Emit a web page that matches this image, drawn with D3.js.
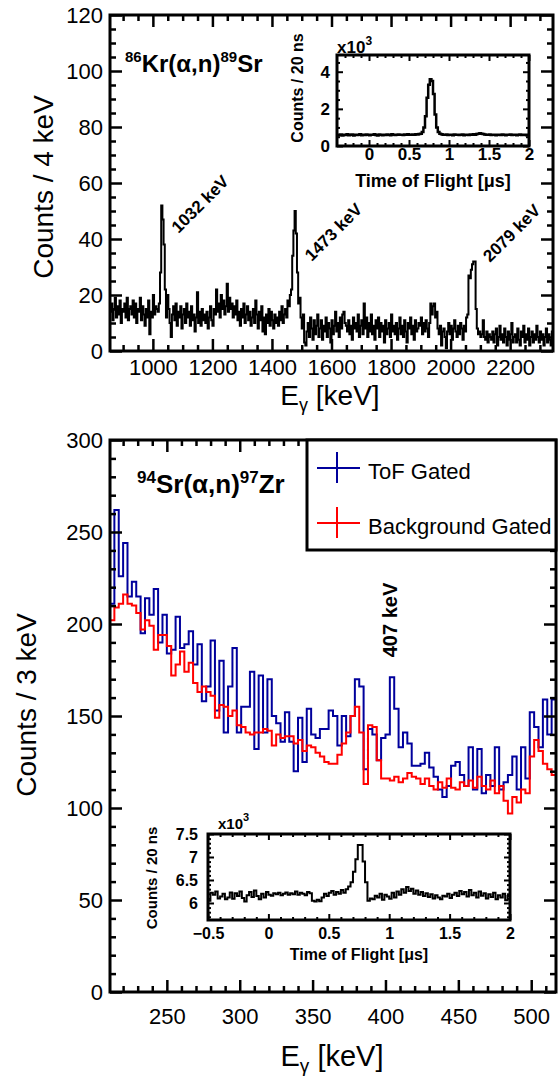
<!DOCTYPE html>
<html>
<head>
<meta charset="utf-8">
<script src="https://cdn.jsdelivr.net/npm/d3@7"></script>
<style>
  body { margin: 0; background: #fff; }
  svg { display: block; font-family: "Liberation Sans", Arial, Helvetica, sans-serif; }
</style>
</head>
<body>
<svg id="chart" width="560" height="1079"></svg>
<script>
// ---- top panel: 86Kr(a,n)89Sr, 4 keV bins starting at 856 keV
var krStart = 856, krBin = 4;
var krCounts = [
  14, 17, 11, 15, 19, 12, 16, 13, 18, 10, 15, 14, 17, 12, 19, 11, 15, 16, 13, 18,
  12, 17, 10, 15, 14, 19, 11, 16, 13, 9, 15, 12, 18, 6, 14, 12, 20, 13, 16, 15,
  14, 17, 28, 52, 47, 38, 22, 12, 20, 15, 10, 5, 13, 16, 11, 17, 9, 14, 12, 16,
  8, 13, 15, 10, 17, 12, 14, 9, 16, 11, 13, 7, 12, 21, 10, 14, 9, 15, 11, 13,
  10, 14, 8, 12, 16, 11, 9, 15, 13, 22, 14, 17, 12, 20, 15, 18, 13, 16, 24, 14,
  19, 15, 17, 12, 16, 13, 18, 11, 14, 9, 15, 12, 17, 10, 13, 16, 11, 14, 9, 12,
  15, 10, 18, 13, 8, 14, 11, 16, 7, 12, 6, 13, 10, 15, 9, 14, 11, 8, 13, 10,
  12, 9, 14, 11, 16, 10, 13, 15, 12, 18, 16, 20, 22, 34, 43, 50, 42, 28, 17, 19,
  12, 8, 13, 3, 2, 7, 10, 5, 12, 8, 4, 11, 6, 9, 13, 5, 8, 11, 4, 9,
  7, 12, 5, 10, 8, 3, 11, 6, 9, 14, 7, 10, 5, 12, 8, 13, 14, 10, 9, 7,
  11, 6, 9, 4, 12, 8, 10, 7, 13, 5, 9, 11, 6, 17, 8, 12, 5, 10, 7, 13,
  6, 9, 4, 11, 8, 12, 5, 10, 7, 9, 3, 11, 6, 8, 10, 5, 13, 7, 9, 6,
  10, 4, 8, 12, 6, 9, 5, 11, 7, 3, 10, 8, 12, 6, 9, 4, 11, 7, 8, 10,
  9, 12, 6, 10, 7, 11, 8, 5, 10, 17, 13, 16, 17, 12, 14, 8, 6, 9, 2, 7,
  8, 5, 1, 7, 10, 6, 9, 4, 8, 11, 7, 5, 9, 6, 10, 8, 4, 9, 7, 12,
  13, 27, 26, 29, 31, 32, 32, 15, 8, 6, 7, 5, 6, 11, 5, 4, 7, 3, 6, 5,
  4, 7, 3, 6, 8, 2, 5, 9, 4, 6, 3, 8, 5, 2, 7, 4, 6, 10, 3, 5,
  6, 3, 8, 4, 2, 7, 5, 9, 3, 6, 4, 8, 2, 5, 7, 3, 6, 4, 9, 5,
  3, 7, 4, 6, 2, 5, 8, 3, 6, 4, 2, 7
];
var krPeaks = [1032, 1473, 2079];
var krPeakLabels = ["1032 keV", "1473 keV", "2079 keV"];
var krXTicks = [1000, 1200, 1400, 1600, 1800, 2000, 2200];
var krYTicks = [0, 20, 40, 60, 80, 100, 120];

// top inset: time of flight, 20 ns bins from -0.4 us, counts x10^3
var tof1Start = -0.4, tof1Bin = 0.02;
var tof1Counts = [
  0.60, 0.58, 0.62, 0.57, 0.61, 0.59, 0.63, 0.58, 0.60, 0.62, 0.57, 0.61, 0.59, 0.60, 0.63, 0.58, 0.61, 0.59, 0.62, 0.60,
  0.58, 0.61, 0.60, 0.63, 0.59, 0.57, 0.62, 0.60, 0.58, 0.61, 0.59, 0.62, 0.60, 0.58, 0.63, 0.60, 0.59, 0.61, 0.62, 0.60,
  0.61, 0.59, 0.62, 0.60, 0.63, 0.61, 0.60, 0.62, 0.61, 0.63, 0.62, 0.64, 0.66, 0.75, 1.00, 1.60, 2.60, 3.30, 3.60, 3.50,
  2.80, 1.70, 1.00, 0.75, 0.66, 0.63, 0.61, 0.60, 0.62, 0.59, 0.61, 0.60, 0.58, 0.62, 0.60, 0.61, 0.59, 0.60, 0.62, 0.58,
  0.60, 0.61, 0.59, 0.62, 0.60, 0.63, 0.61, 0.64, 0.66, 0.68, 0.66, 0.64, 0.62, 0.61, 0.60, 0.62, 0.59, 0.61, 0.60, 0.58,
  0.61, 0.60, 0.59, 0.62, 0.60, 0.58, 0.61, 0.60, 0.62, 0.59, 0.60, 0.61, 0.58, 0.60, 0.62, 0.59, 0.61, 0.60, 0.58, 0.61
];
var tof1XTicks = [0, 0.5, 1, 1.5, 2];
var tof1YTicks = [0, 2, 4];

// ---- bottom panel: 94Sr(a,n)97Zr, 3 keV bins starting at 211 keV
var zrStart = 211, zrBin = 3;
var zrTofGated = [
  211, 262, 226, 244, 215, 223, 215, 195, 214, 205,
  219, 190, 205, 184, 186, 204, 187, 189, 196, 178,
  189, 158, 166, 191, 153, 180, 141, 166, 187, 141,
  155, 155, 174, 132, 172, 141, 170, 150, 146, 136,
  152, 136, 120, 149, 125, 154, 140, 138, 143, 143,
  153, 150, 134, 150, 139, 150, 170, 166, 121, 143,
  140, 126, 138, 140, 171, 154, 133, 141, 135, 123,
  123, 124, 130, 122, 117, 110, 106, 112, 123, 125,
  118, 112, 133, 110, 132, 108, 118, 112, 133, 110,
  114, 118, 128, 110, 133, 116, 152, 144, 133, 159,
  140, 159
];
var zrBackground = [
  202, 209, 211, 216, 211, 210, 206, 197, 202, 199,
  186, 194, 194, 188, 172, 178, 185, 174, 179, 168,
  163, 166, 163, 161, 149, 156, 155, 150, 153, 145,
  144, 141, 140, 141, 141, 143, 142, 134, 140, 138,
  139, 139, 135, 137, 131, 134, 133, 130, 128, 125,
  124, 124, 129, 135, 141, 150, 155, 141, 113, 145,
  144, 126, 116, 116, 115, 117, 114, 116, 119, 117,
  116, 113, 116, 112, 110, 114, 111, 116, 111, 110,
  114, 112, 115, 111, 117, 112, 110, 115, 108, 112,
  104, 97, 106, 103, 110, 108, 128, 137, 131, 124,
  121, 118
];
var zrSeries = ["ToF Gated", "Background Gated"];
var zrPeak = 407;
var zrXTicks = [250, 300, 350, 400, 450, 500];
var zrYTicks = [0, 50, 100, 150, 200, 250, 300];

// bottom inset: time of flight, 20 ns bins from -0.5 us, counts x10^3
var tof2Start = -0.5, tof2Bin = 0.02;
var tof2Counts = [
  6.05, 6.22, 6.18, 6.25, 6.10, 6.14, 6.20, 6.08, 6.12, 6.23, 6.09, 6.21, 6.15, 6.25, 6.11, 6.03, 6.17, 6.24, 6.13, 6.27,
  6.15, 6.08, 6.20, 6.12, 6.24, 6.18, 6.16, 6.21, 6.19, 6.22, 6.17, 6.20, 6.23, 6.18, 6.21, 6.19, 6.25, 6.18, 6.22, 6.20,
  6.17, 6.24, 6.21, 6.05, 6.03, 6.07, 6.04, 6.12, 6.20, 6.15, 6.22, 6.26, 6.18, 6.24, 6.20, 6.28, 6.22, 6.30, 6.36, 6.45,
  6.68, 6.95, 7.26, 7.26, 6.90, 6.45, 6.05, 6.10, 6.08, 6.16, 6.12, 6.20, 6.07, 6.18, 6.14, 6.09, 6.22, 6.12, 6.25, 6.18,
  6.30, 6.22, 6.35, 6.26, 6.31, 6.20, 6.27, 6.18, 6.24, 6.15, 6.21, 6.13, 6.19, 6.10, 6.17, 6.12, 6.08, 6.16, 6.14, 6.20,
  6.11, 6.18, 6.22, 6.15, 6.26, 6.19, 6.24, 6.14, 6.28, 6.17, 6.22, 6.12, 6.25, 6.16, 6.21, 6.10, 6.19, 6.13, 6.22, 6.08,
  6.17, 6.12, 6.20, 6.06, 6.15
];
var tof2XTicks = [-0.5, 0, 0.5, 1, 1.5, 2];
var tof2YTicks = [6, 6.5, 7, 7.5];

var blue = "#00009c", red = "#ff0000";
var svg = d3.select("#chart");

function edges(start, bin, vals) {
  var pts = vals.map(function (v, i) { return [start + i * bin, v]; });
  pts.push([start + vals.length * bin, vals[vals.length - 1]]);
  return pts;
}

function hist(g, x, y, start, bin, vals, color, width, clipId) {
  var line = d3.line()
    .x(function (d) { return x(d[0]); })
    .y(function (d) { return y(d[1]); })
    .curve(d3.curveStepAfter);
  g.append("path")
    .attr("d", line(edges(start, bin, vals)))
    .attr("fill", "none")
    .attr("stroke", color)
    .attr("stroke-width", width)
    .attr("clip-path", "url(#" + clipId + ")");
}

function clip(id, x, y) {
  svg.append("clipPath").attr("id", id).append("rect")
    .attr("x", x.range()[0]).attr("y", y.range()[1])
    .attr("width", x.range()[1] - x.range()[0])
    .attr("height", y.range()[0] - y.range()[1]);
}

function minorTicks(lo, hi, step, major) {
  return d3.range(Math.round(lo / step), Math.round(hi / step) + 1)
    .map(function (k) { return +(k * step).toFixed(4); })
    .filter(function (v) {
      return v > lo && v < hi && major.indexOf(v) < 0;
    });
}

// ROOT style frame: ticks on all four sides pointing inward, labels left and bottom
function frame(g, x, y, o) {
  var L = x.range()[0], R = x.range()[1], B = y.range()[0], T = y.range()[1];
  var xd = x.domain(), yd = y.domain();
  var xMinor = minorTicks(xd[0], xd[1], o.xStep, o.xMajor);
  var yMinor = minorTicks(yd[0], yd[1], o.yStep, o.yMajor);
  var sides = [
    [d3.axisBottom, x, 0, B, o.xMajor, xMinor, o.xPad],
    [d3.axisTop, x, 0, T, o.xMajor, xMinor, 0],
    [d3.axisLeft, y, L, 0, o.yMajor, yMinor, o.yPad],
    [d3.axisRight, y, R, 0, o.yMajor, yMinor, 0]
  ];
  sides.forEach(function (s, k) {
    var tr = "translate(" + s[2] + "," + s[3] + ")";
    g.append("g").attr("transform", tr)
      .call(s[0](s[1]).tickValues(s[5]).tickSize(-o.minorLen).tickFormat(""));
    var labelled = (k === 0 || k === 2);
    var fmt = k < 2 ? o.xFormat : o.yFormat;
    g.append("g").attr("transform", tr).attr("class", labelled ? "lab" : "")
      .call(s[0](s[1]).tickValues(s[4]).tickSize(-o.majorLen).tickPadding(s[6])
        .tickFormat(labelled ? fmt : ""));
  });
  g.selectAll(".domain").remove();
  g.selectAll(".tick line").attr("stroke", "#000").attr("stroke-width", o.tickW);
  g.selectAll("g").attr("font-family", null).attr("font-size", null);
  g.selectAll(".lab text")
    .attr("fill", "#000")
    .style("font-size", o.fontSize + "px")
    .style("font-weight", o.bold ? "bold" : "normal");
  g.append("rect")
    .attr("x", L).attr("y", T).attr("width", R - L).attr("height", B - T)
    .attr("fill", "none").attr("stroke", "#000").attr("stroke-width", o.frameW);
}

function plain(v) { return String(v); }
function signed(v) { return v < 0 ? "\u2212" + Math.abs(v) : String(v); }

function eGammaTitle(g, cx, cy, size) {
  var t = g.append("text").attr("x", cx).attr("y", cy)
    .attr("text-anchor", "middle").style("font-size", size + "px");
  t.append("tspan").text("E");
  t.append("tspan").text("\u03b3").style("font-size", Math.round(size * 0.65) + "px").attr("dy", 6);
  t.append("tspan").text(" [keV]").attr("dy", -6);
}

function superTitle(g, x, y, size, supSize, parts) {
  var t = g.append("text").attr("x", x).attr("y", y)
    .style("font-size", size + "px").style("font-weight", "bold");
  var shift = Math.round(size * 0.4);
  parts.forEach(function (p, i) {
    var sup = i % 2 === 0;
    t.append("tspan").text(p)
      .style("font-size", (sup ? supSize : size) + "px")
      .attr("dy", i === 0 ? -shift : (sup ? -shift : shift));
  });
}

function insetTitles(g, x, y, o) {
  var L = x.range()[0], R = x.range()[1];
  var m = g.append("text").attr("x", L + o.multDx).attr("y", o.multY)
    .style("font-size", o.multSize + "px").style("font-weight", "bold");
  m.append("tspan").text("x10");
  m.append("tspan").text("3").style("font-size", Math.round(o.multSize * 0.7) + "px").attr("dy", -8);
  g.append("text")
    .attr("transform", "translate(" + o.yTitleX + "," + o.yTitleY + ") rotate(-90)")
    .attr("text-anchor", "middle")
    .style("font-size", o.titleSize + "px").style("font-weight", "bold")
    .text("Counts / 20 ns");
  g.append("text").attr("x", (L + R) / 2).attr("y", o.xTitleY)
    .attr("text-anchor", "middle")
    .style("font-size", o.xTitleSize + "px").style("font-weight", "bold")
    .text("Time of Flight [\u03bcs]");
}

// ================= TOP PANEL =================
var panelKr = svg.append("g");
var kx = d3.scaleLinear().domain([krStart, krStart + krCounts.length * krBin]).range([110, 553]);
var ky = d3.scaleLinear().domain([0, 120]).range([351, 15]);
clip("clipKr", kx, ky);
hist(panelKr, kx, ky, krStart, krBin, krCounts, "#000", 2, "clipKr");
frame(panelKr, kx, ky, {
  xMajor: krXTicks, yMajor: krYTicks, xStep: 50, yStep: 5,
  majorLen: 12, minorLen: 6, tickW: 2.5, frameW: 3,
  xPad: 8, yPad: 7, fontSize: 22, bold: false, xFormat: plain, yFormat: plain
});
superTitle(panelKr, 125, 72, 24, 15, ["86", "Kr(\u03b1,n)", "89", "Sr"]);
var krLabelDx = [16, 18, 16], krLabelY = [234, 262, 263];
krPeaks.forEach(function (e, i) {
  panelKr.append("text")
    .attr("transform", "translate(" + (kx(e) + krLabelDx[i]) + "," + krLabelY[i] + ") rotate(-45)")
    .style("font-size", "17px").style("font-weight", "bold")
    .text(krPeakLabels[i]);
});
panelKr.append("text")
  .attr("transform", "translate(53,187) rotate(-90)")
  .attr("text-anchor", "middle").style("font-size", "28px")
  .text("Counts / 4 keV");
eGammaTitle(panelKr, 330, 405, 28);

// top inset
var ins1 = svg.append("g");
var t1x = d3.scaleLinear().domain([tof1Start, tof1Start + tof1Counts.length * tof1Bin]).range([337, 529]);
var t1y = d3.scaleLinear().domain([0, 4.9]).range([146, 55]);
clip("clipT1", t1x, t1y);
hist(ins1, t1x, t1y, tof1Start, tof1Bin, tof1Counts, "#000", 2.5, "clipT1");
frame(ins1, t1x, t1y, {
  xMajor: tof1XTicks, yMajor: tof1YTicks, xStep: 0.1, yStep: 0.5,
  majorLen: 6, minorLen: 3, tickW: 2, frameW: 3,
  xPad: 2, yPad: 7, fontSize: 17, bold: true, xFormat: plain, yFormat: plain
});
insetTitles(ins1, t1x, t1y, {
  multDx: 0, multY: 53, multSize: 17, yTitleX: 303, yTitleY: 88, titleSize: 16,
  xTitleY: 187, xTitleSize: 18
});

// ================= BOTTOM PANEL =================
var panelZr = svg.append("g");
var zx = d3.scaleLinear().domain([zrStart, zrStart + zrTofGated.length * zrBin]).range([110, 556]);
var zy = d3.scaleLinear().domain([0, 300]).range([992, 440]);
clip("clipZr", zx, zy);
hist(panelZr, zx, zy, zrStart, zrBin, zrTofGated, blue, 2, "clipZr");
hist(panelZr, zx, zy, zrStart, zrBin, zrBackground, red, 2, "clipZr");
frame(panelZr, zx, zy, {
  xMajor: zrXTicks, yMajor: zrYTicks, xStep: 10, yStep: 10,
  majorLen: 12, minorLen: 6, tickW: 2.5, frameW: 3,
  xPad: 16, yPad: 7, fontSize: 22, bold: false, xFormat: plain, yFormat: plain
});
superTitle(panelZr, 137, 493, 26, 17, ["94", "Sr(\u03b1,n)", "97", "Zr"]);
panelZr.append("text")
  .attr("transform", "translate(" + (zx(zrPeak) + 1) + ",620) rotate(-90)")
  .attr("text-anchor", "middle")
  .style("font-size", "20px").style("font-weight", "bold")
  .text(zrPeak + " keV");
panelZr.append("text")
  .attr("transform", "translate(36,705) rotate(-90)")
  .attr("text-anchor", "middle").style("font-size", "28px")
  .text("Counts / 3 keV");
eGammaTitle(panelZr, 332, 1066, 29);

// legend
var leg = svg.append("g");
leg.append("rect").attr("x", 307).attr("y", 440).attr("width", 249).attr("height", 110)
  .attr("fill", "#fff").attr("stroke", "#000").attr("stroke-width", 3);
[blue, red].forEach(function (c, i) {
  var cy = 468 + i * 55;
  leg.append("line").attr("x1", 317).attr("x2", 360).attr("y1", cy).attr("y2", cy)
    .attr("stroke", c).attr("stroke-width", 2);
  leg.append("line").attr("x1", 337).attr("x2", 337).attr("y1", cy - 16).attr("y2", cy + 15)
    .attr("stroke", c).attr("stroke-width", 2);
  leg.append("text").attr("x", 368).attr("y", cy + 11)
    .style("font-size", "22px").text(zrSeries[i]);
});

// bottom inset
var ins2 = svg.append("g");
var t2x = d3.scaleLinear().domain([tof2Start, tof2Start + tof2Counts.length * tof2Bin]).range([208, 510]);
var t2y = d3.scaleLinear().domain([5.63, 7.5]).range([920, 834]);
clip("clipT2", t2x, t2y);
hist(ins2, t2x, t2y, tof2Start, tof2Bin, tof2Counts, "#000", 2, "clipT2");
frame(ins2, t2x, t2y, {
  xMajor: tof2XTicks, yMajor: tof2YTicks, xStep: 0.1, yStep: 0.1,
  majorLen: 6, minorLen: 3, tickW: 2, frameW: 3,
  xPad: 8, yPad: 10, fontSize: 16, bold: true, xFormat: signed, yFormat: plain
});
insetTitles(ins2, t2x, t2y, {
  multDx: 10, multY: 829, multSize: 15, yTitleX: 157, yTitleY: 878, titleSize: 15,
  xTitleY: 960, xTitleSize: 16
});
</script>
</body>
</html>
